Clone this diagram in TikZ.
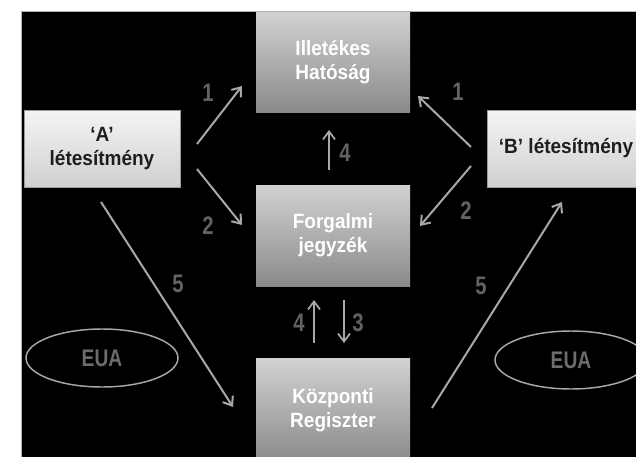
\documentclass[tikz,border=0pt]{standalone}
\usepackage{fontspec}
\setmainfont{Liberation Sans}[FakeStretch=0.92]
\newfontfamily\narrowfont{Liberation Sans}[FakeStretch=0.8]
\usetikzlibrary{arrows.meta,shapes.geometric}

\definecolor{midtop}{HTML}{D2D2D2}
\definecolor{midbot}{HTML}{8A8A8A}
\definecolor{sitetop}{HTML}{F4F4F4}
\definecolor{sitebot}{HTML}{D0D0D0}
\definecolor{siteedge}{HTML}{9A9A9A}
\definecolor{textdark}{HTML}{1E1E1E}
\definecolor{arrowgray}{HTML}{A8A8A8}
\definecolor{numgray}{HTML}{626262}
\definecolor{euaedge}{HTML}{A8A8A8}
\definecolor{euatext}{HTML}{6C6C6C}

\begin{document}
\begin{tikzpicture}[x=0.75pt,y=-0.75pt,
    font=\fontsize{15.5}{18}\selectfont\bfseries,
    centrebox/.style={rectangle,top color=midtop,bottom color=midbot,text=white,
      align=center,minimum width=115.5pt,inner sep=0pt},
    sitebox/.style={rectangle,top color=sitetop,bottom color=sitebot,draw=siteedge,
      text=textdark,align=center,minimum width=117pt,minimum height=57.75pt},
    flow/.style={draw=arrowgray,line width=1.5pt,-{Straight Barb[length=6pt,width=9pt]}},
    num/.style={text=numgray,font=\fontsize{19}{19}\selectfont\narrowfont\bfseries},
    eua/.style={ellipse,draw=euaedge,line width=1.1pt,text=euatext,
      font=\fontsize{18}{18}\selectfont\narrowfont\bfseries,
      minimum width=114pt,minimum height=43.5pt}]
  \useasboundingbox (0,0) rectangle (636,457);
  \clip (0,0) rectangle (636,457);
  \fill[white] (0,0) rectangle (636,457);
  \filldraw[fill=black,draw=gray!60] (21,11) rectangle (650,470);

  % boxes
  \node[centrebox,minimum height=75pt] (hatosag) at (333,62) {Illetékes\\Hatóság};
  \node[centrebox,minimum height=75.75pt] (jegyzek) at (333,235.5) {Forgalmi\\jegyzék};
  \node[centrebox,minimum height=78pt] (regiszter) at (333,410) {Központi\\Regiszter};
  \node[sitebox] (siteA) at (102,148.5) {‘A’\\létesítmény};
  \node[sitebox,minimum width=118.5pt] (siteB) at (566,148.5) {‘B’ létesítmény};

  \node[eua] (euaA) at (102,358) {EUA};
  \node[eua] (euaB) at (571,360) {EUA};

  % arrow ends
  \coordinate (a1s) at (197,144);   \coordinate (a1e) at (242,86);
  \coordinate (a2s) at (197,169);   \coordinate (a2e) at (242,225);
  \coordinate (b1s) at (471,147);   \coordinate (b1e) at (418,96);
  \coordinate (b2s) at (471,166);   \coordinate (b2e) at (420,226);
  \coordinate (t4s) at (329,170);   \coordinate (t4e) at (329,130);
  \coordinate (m4s) at (314,343);   \coordinate (m4e) at (314,300);
  \coordinate (m3s) at (344,300);   \coordinate (m3e) at (344,343);
  \coordinate (a5s) at (101,202);   \coordinate (a5e) at (233,407);
  \coordinate (b5s) at (432,408);   \coordinate (b5e) at (562,202);

  \foreach \s/\e in {a1s/a1e,a2s/a2e,b1s/b1e,b2s/b2e,a5s/a5e,b5s/b5e}
    \draw[flow] (\s) -- (\e);
  \foreach \s/\e in {t4s/t4e,m4s/m4e,m3s/m3e}
    \draw[flow,line width=1.3pt] (\s) -- (\e);

  % step numbers
  \node[num] (n1a) at (208,93) {1};
  \node[num] (n2a) at (208,226) {2};
  \node[num] (n1b) at (458,92) {1};
  \node[num] (n2b) at (466,211) {2};
  \node[num] (n4t) at (345,153) {4};
  \node[num] (n4m) at (299,323) {4};
  \node[num] (n3m) at (358,323) {3};
  \node[num] (n5a) at (178,284) {5};
  \node[num] (n5b) at (481,286) {5};
\end{tikzpicture}
\end{document}
